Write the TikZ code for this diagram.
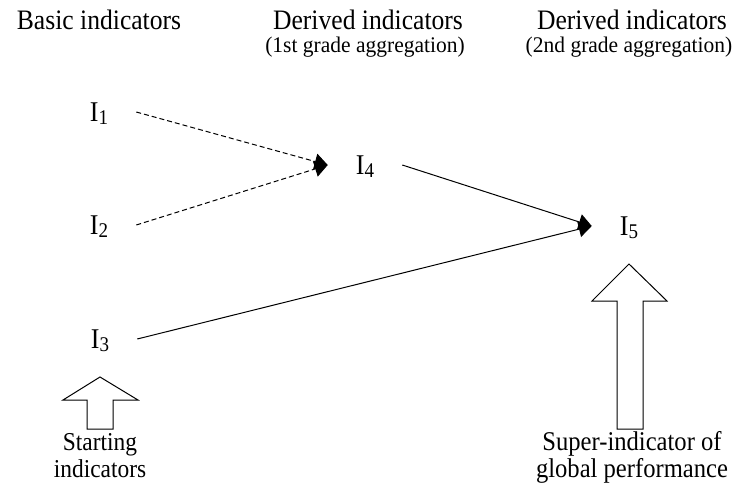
\documentclass[tikz,border=0pt]{standalone}
\usepackage{fontspec}
\usepackage{graphicx}
\setmainfont{Liberation Serif}
\usetikzlibrary{arrows.meta}
\newcommand{\vs}[1]{\scalebox{1}[1.1]{#1}}
\newcommand{\indsym}[1]{\vs{I\raisebox{-3pt}{\fontsize{19}{19}\selectfont #1}}}
\begin{document}
\begin{tikzpicture}[x=1pt,y=-1pt,
  hdr/.style={font=\fontsize{25.6}{27}\selectfont, anchor=base, inner sep=0pt, text depth=0pt},
  subhdr/.style={font=\fontsize{21.5}{22}\selectfont, anchor=base, inner sep=0pt},
  lbl/.style={align=center, anchor=base, inner sep=0pt},
  ind/.style={font=\fontsize{26}{26}\selectfont, inner xsep=28pt, inner ysep=0pt, text height=19pt, text depth=0pt, anchor=center},
  conn/.style={line width=1pt, -{Triangle[length=13pt,width=16pt]}},
  dconn/.style={conn, dash pattern=on 5pt off 3pt},
  hollow/.style={draw, line width=1pt, fill=white, line join=miter}]
\useasboundingbox (0,0) rectangle (734,484);
% headers
\node[hdr] (h1) at (99,30) {\vs{Basic indicators}};
\node[hdr] (h2) at (368,30) {\vs{Derived indicators}};
\node[subhdr] (s2) at (365,53) {\scalebox{1}[1.04]{(1st grade aggregation)}};
\node[hdr] (h3) at (632,30) {\vs{Derived indicators}};
\node[subhdr] (s3) at (629,53) {\scalebox{1}[1.04]{(2nd grade aggregation)}};
% indicators
\node[ind] (i1) at (99,112) {\indsym{1}};
\node[ind] (i2) at (99,225) {\indsym{2}};
\node[ind] (i3) at (100,339) {\indsym{3}};
\node[ind] (i4) at (365,165) {\indsym{4}};
\node[ind] (i5) at (629,226) {\indsym{5}};
% connectors
\draw[dconn] (i1.east) -- (i4.west);
\draw[dconn] (i2.east) -- (i4.west);
\draw[conn] (i4.east) -- (i5.west);
\draw[conn] (i3.east) -- (i5.west);
% hollow arrows
\draw[hollow] (63,400) -- (100,377) -- (138,400) -- (113,400) -- (113,429) -- (87,429) -- (87,400) -- cycle;
\draw[hollow] (592,301) -- (629,264) -- (667,301) -- (643,301) -- (643,429) -- (617,429) -- (617,301) -- cycle;
% labels
\node[lbl, font=\fontsize{23.4}{26.5}\selectfont] (l1) at (100,477) {\vs{Starting}\\\vs{indicators}};
\node[lbl, font=\fontsize{24.6}{26.5}\selectfont] (l2) at (632,477) {\vs{Super-indicator of}\\\vs{global performance}};
\end{tikzpicture}
\end{document}
